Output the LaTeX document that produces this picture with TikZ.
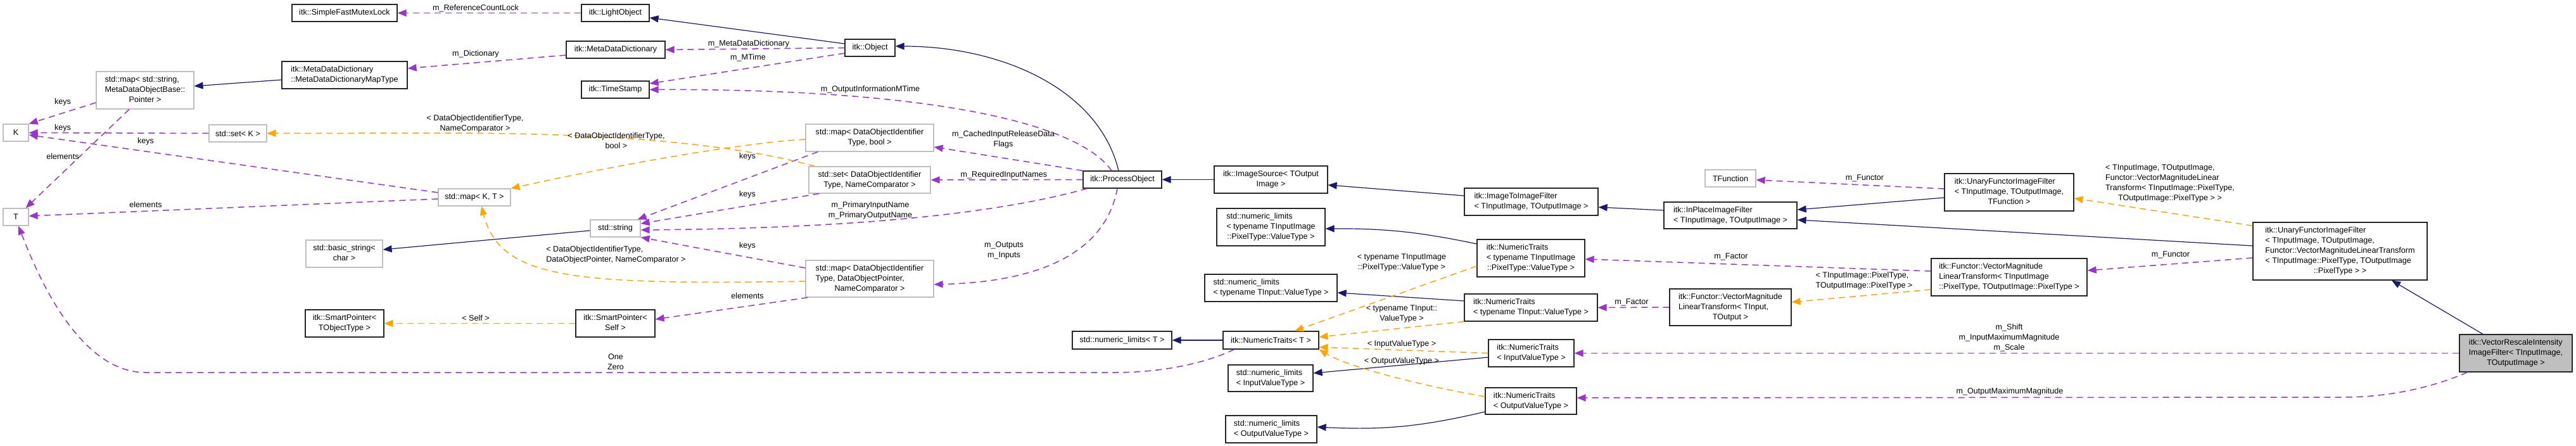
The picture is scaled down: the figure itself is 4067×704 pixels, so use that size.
\documentclass[tikz,border=0pt]{standalone}
\usepackage{fontspec}
\setmainfont{Liberation Sans}
\usetikzlibrary{arrows.meta, positioning}

\definecolor{inhnavy}{HTML}{191970}
\definecolor{usepurple}{HTML}{9A32CD}
\definecolor{tplorange}{HTML}{FFA500}
\definecolor{undocgrey}{HTML}{BFBFBF}

\newcommand{\dfont}{\fontsize{12.6}{16}\selectfont}
\newcommand{\mixlines}[2]{\begin{tabular}{@{}l@{}}#1\\\multicolumn{1}{@{}c@{}}{#2}\end{tabular}}

\begin{document}
\begin{tikzpicture}[
  x=1pt, y=-1pt,
  cls/.style={rectangle, draw=black!85, line width=1.2pt, fill=white, inner sep=0pt, align=center, font=\dfont},
  ext/.style={cls, draw=undocgrey},
  focus/.style={cls, fill=undocgrey},
  boxsize/.style 2 args={minimum width=#1pt, minimum height=#2pt},
  lbl/.style={inner sep=0pt, align=center, font=\dfont},
  inherit/.style={-{Triangle[length=14pt, width=11pt]}, color=inhnavy, line width=1.2pt},
  member/.style={-{Triangle[length=14pt, width=11pt]}, color=usepurple, line width=1.5pt, dash pattern=on 10pt off 7pt},
  tmpl/.style={member, color=tplorange}
]

  \fill[white] (0,0) rectangle (4067,704);
  \useasboundingbox (0,0) rectangle (4067,704);

  % classes
  \node[cls, boxsize={166}{27}] (mutexlock) at (544,20.5) {itk::SimpleFastMutexLock};
  \node[cls, boxsize={198}{43}] (mdmaptype) at (544,118.5) {\mixlines{itk::MetaDataDictionary}{::MetaDataDictionaryMapType}};
  \node[ext, boxsize={154}{59}] (stdmapstr) at (229,142.5) {\mixlines{std::map< std::string,\\MetaDataObjectBase::}{Pointer >}};
  \node[ext, boxsize={40}{27}] (K) at (25,209.5) {K};
  \node[ext, boxsize={91}{27}] (setK) at (375.5,210.5) {std::set< K >};
  \node[ext, boxsize={40}{27}] (T) at (25,342.5) {T};
  \node[ext, boxsize={121}{43}] (basicstr) at (543.5,400.5) {\mixlines{std::basic\_string<}{char >}};
  \node[cls, boxsize={124}{43}] (spobj) at (544,510.5) {\mixlines{itk::SmartPointer<}{TObjectType >}};
  \node[cls, boxsize={107}{27}] (lightobj) at (971.5,20.5) {itk::LightObject};
  \node[cls, boxsize={156}{27}] (mdd) at (972,78.5) {itk::MetaDataDictionary};
  \node[cls, boxsize={107}{27}] (timestamp) at (971.5,141.5) {itk::TimeStamp};
  \node[ext, boxsize={114}{27}] (mapKT) at (749,311.5) {std::map< K, T >};
  \node[ext, boxsize={79}{27}] (stdstr) at (971.5,360.5) {std::string};
  \node[cls, boxsize={125}{43}] (spself) at (971.5,510.5) {\mixlines{itk::SmartPointer<}{Self >}};
  \node[cls, boxsize={79}{27}] (object) at (1373.5,75.5) {itk::Object};
  \node[ext, boxsize={202}{43}] (mapbool) at (1373,217.5) {\mixlines{std::map< DataObjectIdentifier}{Type, bool >}};
  \node[ext, boxsize={192}{42}] (setnames) at (1373,284) {\mixlines{std::set< DataObjectIdentifier}{Type, NameComparator >}};
  \node[ext, boxsize={202}{58}] (mapptr) at (1373,440) {\mixlines{std::map< DataObjectIdentifier\\Type, DataObjectPointer,}{NameComparator >}};
  \node[cls, boxsize={124}{27}] (procobj) at (1772,283.5) {itk::ProcessObject};
  \node[cls, boxsize={179}{43}] (imgsource) at (2006.5,283.5) {\mixlines{itk::ImageSource< TOutput}{Image >}};
  \node[cls, boxsize={171}{59}] (nlimimg) at (2006.5,358.5) {\mixlines{std::numeric\_limits\\< typename TInputImage}{::PixelType::ValueType >}};
  \node[cls, boxsize={209}{43}] (nlimin) at (2006.5,454.5) {\mixlines{std::numeric\_limits}{< typename TInput::ValueType >}};
  \node[cls, boxsize={157}{28}] (nlimT) at (1771.5,537) {std::numeric\_limits< T >};
  \node[cls, boxsize={151}{28}] (ntT) at (2006.5,537) {itk::NumericTraits< T >};
  \node[cls, boxsize={134}{42}] (nliminval) at (2006,597) {\mixlines{std::numeric\_limits}{< InputValueType >}};
  \node[cls, boxsize={144}{43}] (nlimoutval) at (2007,677.5) {\mixlines{std::numeric\_limits}{< OutputValueType >}};
  \node[cls, boxsize={211}{43}] (img2img) at (2417.5,318.5) {\mixlines{itk::ImageToImageFilter}{< TInputImage, TOutputImage >}};
  \node[cls, boxsize={170}{59}] (ntimg) at (2417,407.5) {\mixlines{itk::NumericTraits\\< typename TInputImage}{::PixelType::ValueType >}};
  \node[cls, boxsize={210}{43}] (ntin) at (2417,485.5) {\mixlines{itk::NumericTraits}{< typename TInput::ValueType >}};
  \node[cls, boxsize={135}{43}] (ntinval) at (2417.5,557.5) {\mixlines{itk::NumericTraits}{< InputValueType >}};
  \node[cls, boxsize={144}{42}] (ntoutval) at (2417,633) {\mixlines{itk::NumericTraits}{< OutputValueType >}};
  \node[ext, boxsize={80}{27}] (tfunc) at (2732,281.5) {TFunction};
  \node[cls, boxsize={210}{42}] (inplace) at (2732,340) {\mixlines{itk::InPlaceImageFilter}{< TInputImage, TOutputImage >}};
  \node[cls, boxsize={192}{58}] (vmlgen) at (2732,485) {\mixlines{itk::Functor::VectorMagnitude\\LinearTransform< TInput,}{TOutput >}};
  \node[cls, boxsize={204}{59}] (unary) at (3172,303.5) {\mixlines{itk::UnaryFunctorImageFilter\\< TInputImage, TOutputImage,}{TFunction >}};
  \node[cls, boxsize={246}{59}] (vmlpix) at (3172,437.5) {\mixlines{itk::Functor::VectorMagnitude\\LinearTransform< TInputImage}{::PixelType, TOutputImage::PixelType >}};
  \node[cls, boxsize={275}{91}] (unaryvml) at (3694.5,396.5) {\mixlines{itk::UnaryFunctorImageFilter\\< TInputImage, TOutputImage,\\Functor::VectorMagnitudeLinearTransform\\< TInputImage::PixelType, TOutputImage}{::PixelType > >}};
  \node[focus, boxsize={178}{59}] (vri) at (3972,557.5) {\mixlines{itk::VectorRescaleIntensity\\ImageFilter< TInputImage,}{TOutputImage >}};

  % inheritance
  \draw[inherit] ([yshift=6.5pt]object.west) -- ([yshift=-7.5pt]lightobj.east);
  \draw[inherit] ([yshift=-7.5pt]mdmaptype.west) -- ([yshift=6.5pt]stdmapstr.east);
  \draw[inherit] ([yshift=-3.5pt]stdstr.west) -- ([yshift=6.5pt]basicstr.east);
  \draw[inherit] ([xshift=-6pt]procobj.north) .. controls (1735,140) and (1580,73) .. ([yshift=2.5pt]object.east);
  \draw[inherit] (imgsource.west) -- (procobj.east);
  \draw[inherit] ([yshift=9.5pt]img2img.west) -- ([yshift=-8.5pt]imgsource.east);
  \draw[inherit] ([yshift=8pt]inplace.west) -- ([yshift=-8.5pt]img2img.east);
  \draw[inherit] ([yshift=-8.5pt]unary.west) -- ([yshift=9pt]inplace.east);
  \draw[inherit] ([yshift=8.5pt]unaryvml.west) -- ([yshift=-7pt]inplace.east);
  \draw[inherit] ([xshift=-52pt]vri.north) -- ([xshift=81.5pt]unaryvml.south);
  \draw[inherit] (ntT.west) -- (nlimT.east);
  \draw[inherit] ([yshift=22.5pt]ntimg.west) to[bend right=6] ([yshift=-2.5pt]nlimimg.east);
  \draw[inherit] ([yshift=10.5pt]ntin.west) -- ([yshift=-7.5pt]nlimin.east);
  \draw[inherit] ([yshift=-6.5pt]ntinval.west) -- ([yshift=8pt]nliminval.east);
  \draw[inherit] ([yshift=-17pt]ntoutval.west) to[bend left=8] ([yshift=3.5pt]nlimoutval.east);

  % members
  \draw[member] (lightobj.west) -- (mutexlock.east);
  \draw[member] ([yshift=-8.5pt]mdd.west) -- ([yshift=10.5pt]mdmaptype.east);
  \draw[member] (object.west) -- (mdd.east);
  \draw[member] ([yshift=-8.5pt]object.west) -- ([yshift=9.5pt]timestamp.east);
  \draw[member] ([xshift=-17pt]procobj.north) .. controls (1700,190) and (1450,140) .. (timestamp.east);
  \draw[member] (procobj.north west) -- ([yshift=-14.5pt]mapbool.east);
  \draw[member] (procobj.west) -- (setnames.east);
  \draw[member] ([xshift=7pt]procobj.south west) .. controls (1600,330) and (1400,360) .. ([yshift=-2.5pt]stdstr.east);
  \draw[member] ([xshift=-8pt]procobj.south) .. controls (1745,400) and (1640,445) .. ([yshift=-9pt]mapptr.east);
  \draw[member] ([xshift=20pt]mapbool.south west) -- ([xshift=-5pt]stdstr.north east);
  \draw[member] ([xshift=17pt]setnames.south west) -- ([yshift=7.5pt]stdstr.east);
  \draw[member] ([yshift=17pt]mapptr.west) -- (stdstr.south east);
  \draw[member] ([xshift=4pt]mapptr.south west) -- ([yshift=6.5pt]spself.east);
  \draw[member] ([yshift=-19.5pt]stdmapstr.west) -- (K.north east);
  \draw[member] ([xshift=-25pt]stdmapstr.south) -- ([xshift=-5pt]T.north east);
  \draw[member] ([yshift=7.5pt]mapKT.west) -- ([yshift=-3.5pt]K.east);
  \draw[member] ([yshift=-2.5pt]mapKT.west) -- ([yshift=1.5pt]T.east);
  \draw[member] (setK.west) -- (K.east);
  \draw[member] ([xshift=18pt]ntT.south west) .. controls (1900,575) and (1830,588) .. (1760,588) -- (230,588) .. controls (120,588) and (54,420) .. ([xshift=4pt]T.south);
  \draw[member] ([yshift=5.5pt]unary.west) -- ([yshift=-2.5pt]tfunc.east);
  \draw[member] ([yshift=-10.5pt]unaryvml.west) -- ([yshift=10.5pt]vmlpix.east);
  \draw[member] ([yshift=9.5pt]vmlpix.west) -- ([yshift=-1.5pt]ntimg.east);
  \draw[member] (vmlgen.west) -- (ntin.east);
  \draw[member] (vri.west) -- (ntinval.east);
  \draw[member] ([xshift=13pt]vri.south west) .. controls (3840,612) and (3770,627) .. (3700,627) -- ([yshift=5pt]ntoutval.east);

  % template instances
  \draw[tmpl] ([xshift=10pt]setnames.north west) .. controls (1150,225) and (950,210) .. (700,210) -- (setK.east);
  \draw[tmpl] ([yshift=-2.5pt]mapbool.west) .. controls (1180,225) and (1000,255) .. (mapKT.north east);
  \draw[tmpl] ([yshift=-4pt]mapptr.west) .. controls (900,450) and (790,440) .. ([xshift=11pt]mapKT.south);
  \draw[tmpl] (spself.west) -- (spobj.east);
  \draw[tmpl] ([yshift=-12.5pt]ntimg.west) -- ([xshift=37.5pt]ntT.north);
  \draw[tmpl] (ntin.south west) -- ([yshift=5pt]ntT.east);
  \draw[tmpl] (ntinval.west) -- ([yshift=-11pt]ntT.east);
  \draw[tmpl] ([yshift=7pt]ntoutval.west) .. controls (2250,610) and (2130,580) .. (ntT.south east);
  \draw[tmpl] ([yshift=-19.5pt]vmlpix.west) -- ([yshift=8pt]vmlgen.east);
  \draw[tmpl] ([yshift=-6pt]unaryvml.north west) -- ([yshift=-9.5pt]unary.east);

  % edge labels
  \node[lbl] (lrefcount) at (751,13) {m\_ReferenceCountLock};
  \node[lbl] (ldict) at (751,85) {m\_Dictionary};
  \node[lbl] (lmdd) at (1182,69) {m\_MetaDataDictionary};
  \node[lbl] (lmtime) at (1181,91) {m\_MTime};
  \node[lbl] (loutinfo) at (1374,141) {m\_OutputInformationMTime};
  \node[lbl] (lcached) at (1584,220) {\mixlines{m\_CachedInputReleaseData}{Flags}};
  \node[lbl] (lrequired) at (1585,276) {m\_RequiredInputNames};
  \node[lbl] (lprimary) at (1374,332) {m\_PrimaryInputName\\m\_PrimaryOutputName};
  \node[lbl] (lputs) at (1585,395) {m\_Outputs\\m\_Inputs};
  \node[lbl] (lkeysA) at (1180,247) {keys};
  \node[lbl] (lkeysB) at (1180,307) {keys};
  \node[lbl] (lkeysC) at (1180,388) {keys};
  \node[lbl] (lelemA) at (1180,467) {elements};
  \node[lbl] (lkeysD) at (99,161) {keys};
  \node[lbl] (lkeysE) at (99,202) {keys};
  \node[lbl] (lkeysF) at (230,223) {keys};
  \node[lbl] (lelemB) at (99,247) {elements};
  \node[lbl] (lelemC) at (230,323) {elements};
  \node[lbl] (lsetnames) at (750,195) {< DataObjectIdentifierType,\\NameComparator >};
  \node[lbl] (lmapbool) at (973,222) {< DataObjectIdentifierType,\\bool >};
  \node[lbl] (lmapptr) at (972.5,402) {\mixlines{< DataObjectIdentifierType,}{DataObjectPointer, NameComparator >}};
  \node[lbl] (lself) at (751,502) {< Self >};
  \node[lbl] (lonezero) at (972,571) {One\\Zero};
  \node[lbl] (lntimg) at (2213,414) {< typename TInputImage\\::PixelType::ValueType >};
  \node[lbl] (lntin) at (2213,495) {< typename TInput::\\ValueType >};
  \node[lbl] (lntinval) at (2213,543) {< InputValueType >};
  \node[lbl] (lntoutval) at (2213,570) {< OutputValueType >};
  \node[lbl] (lfactorA) at (2733,405) {m\_Factor};
  \node[lbl] (lfactorB) at (2576,477) {m\_Factor};
  \node[lbl] (lvmlpix) at (2943,443) {\mixlines{< TInputImage::PixelType,}{TOutputImage::PixelType >}};
  \node[lbl] (lfunctorA) at (2944,281) {m\_Functor};
  \node[lbl] (lfunctorB) at (3427,402) {m\_Functor};
  \node[lbl] (lunaryvml) at (3426,289) {\mixlines{< TInputImage, TOutputImage,\\Functor::VectorMagnitudeLinear\\Transform< TInputImage::PixelType,}{TOutputImage::PixelType > >}};
  \node[lbl] (lshift) at (3172,533) {m\_Shift\\m\_InputMaximumMagnitude\\m\_Scale};
  \node[lbl] (loutmax) at (3173,618) {m\_OutputMaximumMagnitude};

\end{tikzpicture}
\end{document}
